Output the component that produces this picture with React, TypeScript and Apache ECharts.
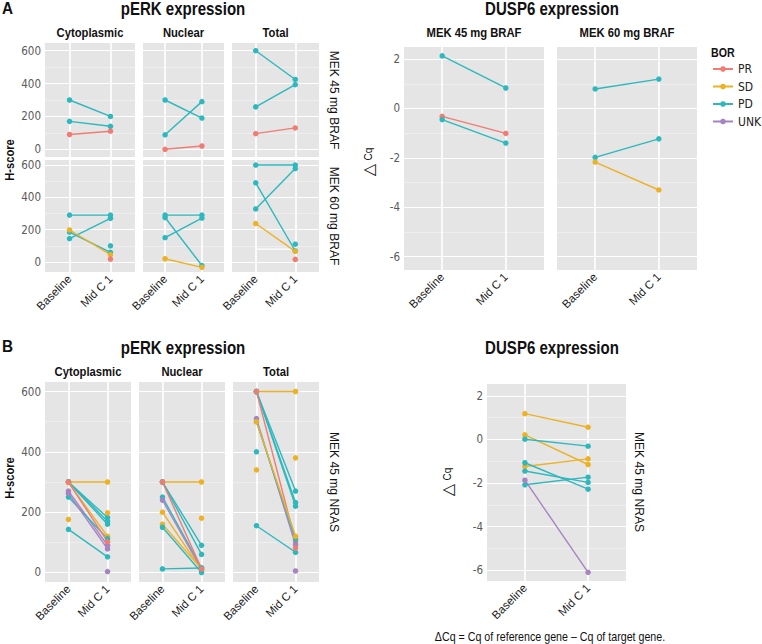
import React, { useEffect, useRef } from "react";
import * as echarts from "echarts";

const FONT = "'Liberation Sans', Arial, sans-serif";
const FONT_C = "'DejaVu Sans Condensed', 'Liberation Sans', sans-serif";

const BOR_LEVELS = ["PR", "SD", "PD", "UNK"];
const BOR_COLORS: Record<string, string> = { PR: "#F07C74", SD: "#EDB125", PD: "#2DB8BE", UNK: "#A683C2" };
const TIMEPOINTS = ["Baseline", "Mid C 1"];
const PERK_TICKS = [0, 200, 400, 600];
const PERK_MINOR = [100, 300, 500];
const DCQ_TICKS = [-6, -4, -2, 0, 2];
const DCQ_MINOR = [-5, -3, -1, 1];

type Pair = [string, number | null, number | null];

// Panel A pERK, MEK 45 mg BRAF
const aBraf45Cyto: Pair[] = [["PD", 300, 200], ["PD", 170, 140], ["PR", 90, 110]];
const aBraf45Nuc: Pair[] = [["PD", 300, 190], ["PD", 88, 290], ["PR", 0, 20]];
const aBraf45Total: Pair[] = [["PD", 600, 425], ["PD", 258, 393], ["PR", 95, 130]];
// Panel A pERK, MEK 60 mg BRAF
const aBraf60Cyto: Pair[] = [["PD", 290, 290], ["PD", 145, 270], ["PD", 185, 60], ["SD", 198, 45], ["PD", null, 100], ["PR", null, 18]];
const aBraf60Nuc: Pair[] = [["PD", 290, 290], ["PD", 275, -22], ["PD", 150, 272], ["SD", 20, -33]];
const aBraf60Total: Pair[] = [["PD", 600, 600], ["PD", 490, 68], ["PD", 328, 578], ["SD", 238, 66], ["PD", null, 110], ["PR", null, 16]];
const aBraf60TotalWhite: number[] = [79, 79];
// Panel A DUSP6
const dBraf45: Pair[] = [["PD", 2.13, 0.83], ["PR", -0.32, -1.01], ["PD", -0.45, -1.4]];
const dBraf60: Pair[] = [["PD", 0.79, 1.19], ["PD", -1.98, -1.23], ["SD", -2.17, -3.3]];
// Panel B pERK, MEK 45 mg NRAS
const bNrasCyto: Pair[] = [
  ["SD", 300, 300], ["PD", 300, 182], ["PD", 300, 170], ["PD", 300, 160], ["SD", 298, 120],
  ["UNK", 270, 90], ["PD", 250, 112], ["UNK", 262, 78], ["PD", 143, 52], ["PR", 300, 102],
  ["SD", 176, null], ["SD", null, 198], ["UNK", null, 3],
];
const bNrasNuc: Pair[] = [
  ["SD", 300, 300], ["PD", 300, 90], ["PD", 300, 60], ["PD", 250, 15], ["UNK", 240, 10],
  ["SD", 200, 8], ["SD", 160, 12], ["PD", 150, 0], ["PD", 12, 15], ["PR", 300, 12], ["SD", null, 180],
];
const bNrasTotal: Pair[] = [
  ["SD", 600, 600], ["PD", 600, 270], ["PD", 600, 232], ["PD", 600, 220], ["PR", 600, 102],
  ["UNK", 510, 92], ["PD", 500, 111], ["SD", 500, 120], ["PD", 155, 67], ["PD", 400, null],
  ["SD", 340, null], ["SD", null, 380], ["PR", null, 81], ["UNK", null, 5],
];
// Panel B DUSP6
const dNras: Pair[] = [
  ["SD", 1.18, 0.56], ["SD", 0.21, -1.15], ["PD", 0.01, -0.31], ["SD", -1.24, -0.89],
  ["PD", -1.07, -2.28], ["PD", -1.45, -1.97], ["PD", -2.08, -1.73], ["UNK", -1.87, -6.09],
];

type Panel = {
  data: Pair[]; l: number; r: number; t: number; b: number; min: number; max: number;
  kind: "perk" | "dcq"; yLab: boolean; xLab: boolean; extra?: number[];
};

const panels: Panel[] = [
  { data: aBraf45Cyto, l: 45, r: 135, t: 43, b: 157, min: -47, max: 647, kind: "perk", yLab: true, xLab: false },
  { data: aBraf45Nuc, l: 143, r: 224, t: 43, b: 157, min: -47, max: 647, kind: "perk", yLab: false, xLab: false },
  { data: aBraf45Total, l: 232, r: 319, t: 43, b: 157, min: -47, max: 647, kind: "perk", yLab: false, xLab: false },
  { data: aBraf60Cyto, l: 45, r: 135, t: 160, b: 272, min: -62, max: 631, kind: "perk", yLab: true, xLab: true },
  { data: aBraf60Nuc, l: 143, r: 224, t: 160, b: 272, min: -62, max: 631, kind: "perk", yLab: false, xLab: true },
  { data: aBraf60Total, l: 232, r: 319, t: 160, b: 272, min: -62, max: 631, kind: "perk", yLab: false, xLab: true, extra: aBraf60TotalWhite },
  { data: dBraf45, l: 404, r: 544, t: 47, b: 270, min: -6.54, max: 2.49, kind: "dcq", yLab: true, xLab: true },
  { data: dBraf60, l: 557, r: 697, t: 47, b: 270, min: -6.54, max: 2.49, kind: "dcq", yLab: false, xLab: true },
  { data: bNrasCyto, l: 45, r: 131, t: 382, b: 582, min: -31.5, max: 631.5, kind: "perk", yLab: true, xLab: true },
  { data: bNrasNuc, l: 139, r: 225, t: 382, b: 582, min: -31.5, max: 631.5, kind: "perk", yLab: false, xLab: true },
  { data: bNrasTotal, l: 233, r: 319, t: 382, b: 582, min: -31.5, max: 631.5, kind: "perk", yLab: false, xLab: true },
  { data: dNras, l: 487, r: 626, t: 384, b: 581, min: -6.49, max: 2.54, kind: "dcq", yLab: true, xLab: true },
];

function buildOption() {
  const grid: any[] = [];
  const xAxis: any[] = [];
  const yAxis: any[] = [];
  const series: any[] = [];
  panels.forEach((p, i) => {
    grid.push({ left: p.l, top: p.t, width: p.r - p.l, height: p.b - p.t, show: true, backgroundColor: "#E5E5E5", borderWidth: 0 });
    xAxis.push({
      gridIndex: i, type: "value", min: -0.6, max: 1.6,
      axisLine: { show: false }, axisTick: { show: false }, splitLine: { show: false },
      axisLabel: p.xLab
        ? { show: true, customValues: [0, 1], formatter: (v: number) => TIMEPOINTS[Math.round(v)], rotate: 45, fontSize: 11.5, color: "#1a1a1a", margin: 5, fontFamily: FONT }
        : { show: false },
    });
    const ticks = p.kind === "perk" ? PERK_TICKS : DCQ_TICKS;
    const minor = p.kind === "perk" ? PERK_MINOR : DCQ_MINOR;
    yAxis.push({
      gridIndex: i, type: "value", min: p.min, max: p.max,
      axisLine: { show: false }, splitLine: { show: false },
      axisTick: { show: p.yLab, customValues: ticks, length: 3, lineStyle: { color: "#7F7F7F" } },
      axisLabel: { show: p.yLab, customValues: ticks, fontSize: 11.5, color: "#5a5a5a", margin: 4, fontFamily: FONT_C },
    });
    const lines: any[] = [];
    minor.forEach((v) => lines.push({ yAxis: v, lineStyle: { color: "#F2F2F2", width: 0.7, type: "solid" } }));
    ticks.forEach((v) => lines.push({ yAxis: v, lineStyle: { color: "#FFFFFF", width: 1.2, type: "solid" } }));
    [0, 1].forEach((v) => lines.push({ xAxis: v, lineStyle: { color: "#FFFFFF", width: 1.6, type: "solid" } }));
    series.push({
      type: "line", xAxisIndex: i, yAxisIndex: i, data: [], z: 1, silent: true,
      markLine: { silent: true, z: 1, symbol: ["none", "none"], label: { show: false }, emphasis: { disabled: true }, data: lines },
    });
    if (p.extra) {
      series.push({
        type: "line", xAxisIndex: i, yAxisIndex: i, z: 8, silent: true, showSymbol: false,
        data: [[0, p.extra[0]], [1, p.extra[1]]], lineStyle: { color: "#FFFFFF", width: 1.3 }, itemStyle: { color: "#FFFFFF" },
      });
    }
    p.data.forEach(([bor, b, m]) => {
      const pts: number[][] = [];
      if (b !== null) pts.push([0, b]);
      if (m !== null) pts.push([1, m]);
      const c = BOR_COLORS[bor];
      series.push({
        type: "line", name: bor, xAxisIndex: i, yAxisIndex: i, z: 10, data: pts,
        symbol: "circle", symbolSize: 5.5, showSymbol: true,
        color: c, itemStyle: { color: c, borderWidth: 0 }, lineStyle: { width: 1.4, color: c },
        emphasis: { disabled: true },
      });
    });
  });

  const txt = (x: number, y: number, text: string, size: number, bold: boolean, sx = 0.88, rot = 0, align = "center") => ({
    type: "text", x, y, rotation: rot, scaleX: sx, silent: true,
    style: { text, fontSize: size, fontWeight: bold ? "bold" : "normal", fill: "#111", align, verticalAlign: "middle", fontFamily: FONT },
  });
  const dcq = (x: number, y: number) => ({
    type: "text", x, y, rotation: Math.PI / 2, silent: true,
    style: {
      text: "{a|△} {b|Cq}", align: "center", verticalAlign: "middle", fill: "#111", fontFamily: FONT,
      rich: { a: { fontSize: 16, fontFamily: "'DejaVu Sans', sans-serif", fill: "#111" }, b: { fontSize: 10, fontFamily: FONT, fill: "#111" } },
    },
  });

  const graphic: any[] = [
    txt(2, 8, "A", 17, true, 0.9, 0, "left"),
    txt(183, 9, "pERK expression", 17.5, true, 0.86),
    txt(90, 33, "Cytoplasmic", 12.5, true, 0.9),
    txt(183.5, 33, "Nuclear", 12.5, true, 0.9),
    txt(275.5, 33, "Total", 12.5, true, 0.9),
    txt(334, 100, "MEK 45 mg BRAF", 13, false, 0.93, -Math.PI / 2),
    txt(334, 216, "MEK 60 mg BRAF", 13, false, 0.93, -Math.PI / 2),
    txt(10, 160, "H-score", 13, true, 0.86, Math.PI / 2),
    txt(552, 9, "DUSP6 expression", 17.5, true, 0.86),
    txt(474, 33, "MEK 45 mg BRAF", 12.5, true, 0.9),
    txt(627, 33, "MEK 60 mg BRAF", 12.5, true, 0.9),
    dcq(368, 162),
    txt(711, 53, "BOR", 13, true, 0.82, 0, "left"),
    txt(2, 346, "B", 17, true, 0.9, 0, "left"),
    txt(183, 348, "pERK expression", 17.5, true, 0.86),
    txt(88, 372, "Cytoplasmic", 12.5, true, 0.9),
    txt(182, 372, "Nuclear", 12.5, true, 0.9),
    txt(276, 372, "Total", 12.5, true, 0.9),
    txt(334, 482, "MEK 45 mg NRAS", 13, false, 0.93, -Math.PI / 2),
    txt(10, 478, "H-score", 13, true, 0.86, Math.PI / 2),
    txt(552, 348, "DUSP6 expression", 17.5, true, 0.86),
    txt(639, 482, "MEK 45 mg NRAS", 13, false, 0.93, -Math.PI / 2),
    dcq(447, 482),
    txt(550, 637, "ΔCq = Cq of reference gene – Cq of target gene.", 12, false, 0.89),
  ];

  return {
    animation: false,
    backgroundColor: "#FFFFFF",
    textStyle: { fontFamily: FONT },
    tooltip: { show: false },
    legend: {
      data: BOR_LEVELS, orient: "vertical", left: 707, top: 58, itemWidth: 20, itemHeight: 7, itemGap: 5.5,
      selectedMode: false, textStyle: { fontSize: 12, color: "#222", fontFamily: FONT_C },
    },
    grid, xAxis, yAxis, series, graphic,
  };
}

export default function App() {
  const ref = useRef<HTMLDivElement>(null);
  useEffect(() => {
    if (!ref.current) return;
    const chart = echarts.init(ref.current, undefined, { renderer: "svg" });
    chart.setOption(buildOption() as any);
    return () => chart.dispose();
  }, []);
  return <div ref={ref} style={{ position: "absolute", left: 0, top: 0, width: 762, height: 644 }} />;
}
